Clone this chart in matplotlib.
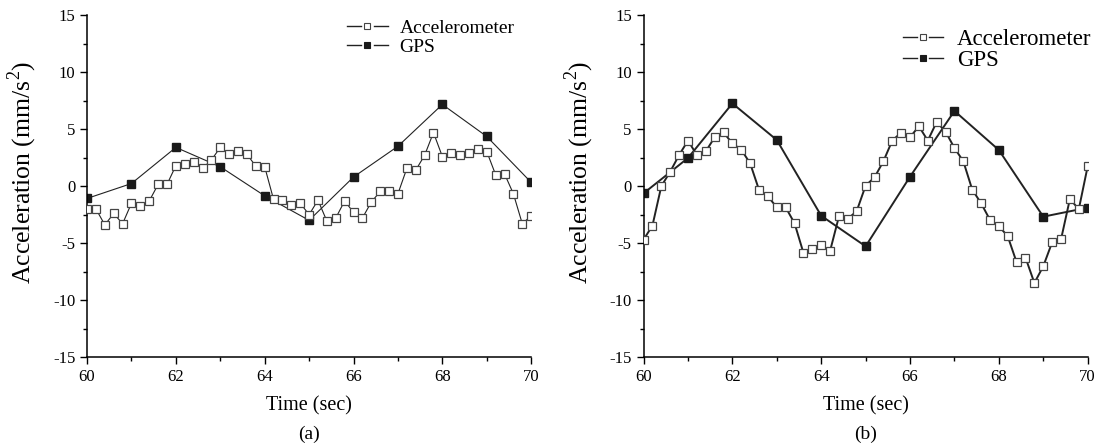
import numpy as np
import matplotlib
matplotlib.use("Agg")
import matplotlib.pyplot as plt
from matplotlib.ticker import MultipleLocator
from matplotlib.legend_handler import HandlerBase
from matplotlib.lines import Line2D

plt.rcParams["font.family"] = ["Liberation Serif", "DejaVu Serif"]
plt.rcParams["mathtext.fontset"] = "custom"
plt.rcParams["mathtext.rm"] = "Liberation Serif"
plt.rcParams["axes.unicode_minus"] = False

# ============================================================
# DATA
# ============================================================
acc_time = np.round(np.arange(60.0, 70.01, 0.2), 1)
gps_time = np.arange(60, 71, 1)

acc_a = [-2.0, -2.0, -3.4, -2.4, -3.3, -1.5, -1.75, -1.3, 0.15, 0.15,
         1.8, 1.9, 2.1, 1.55, 2.3, 3.4, 2.8, 3.1, 2.8, 1.75,
         1.7, -1.17, -1.23, -1.67, -1.5, -2.5, -1.23, -3.07, -2.8, -1.3,
         -2.3, -2.8, -1.4, -0.47, -0.47, -0.67, 1.55, 1.4, 2.7, 4.7,
         2.6, 2.87, 2.7, 2.87, 3.25, 3.04, 1.0, 1.08, -0.67, -3.3,
         -2.6]
gps_a = [-1.08, 0.23, 3.4, 1.7, -0.85, -3.0, 0.8, 3.5, 7.17, 4.36, 0.33]

acc_b = [-4.7, -3.46, 0.0, 1.27, 2.73, 4.0, 2.73, 3.05, 4.28, 4.72,
         3.75, 3.2, 2.0, -0.33, -0.9, -1.86, -1.86, -3.26, -5.86, -5.5,
         -5.2, -5.68, -2.65, -2.88, -2.18, 0.04, 0.77, 2.18, 4.0, 4.7,
         4.3, 5.25, 4.0, 5.63, 4.78, 3.35, 2.18, -0.3, -1.5, -2.96,
         -3.5, -4.4, -6.68, -6.27, -8.5, -7.03, -4.93, -4.67, -1.12, -2.03,
         1.74]
gps_b = [-0.63, 2.47, 7.26, 4.05, -2.6, -5.28, 0.83, 6.6, 3.17, -2.68, -1.89]


# Origin-style legend key: "—□—" with gaps around the marker
class GapHandler(HandlerBase):
    def create_artists(self, legend, orig, xdescent, ydescent, width, height,
                       fontsize, trans):
        y = height / 2 - ydescent
        x0 = -xdescent
        gap = width * 0.15
        kw = dict(color=orig.get_color(), linewidth=1.0)
        l1 = Line2D([x0, x0 + width / 2 - gap], [y, y], **kw)
        l2 = Line2D([x0 + width / 2 + gap, x0 + width], [y, y], **kw)
        m = Line2D([x0 + width / 2], [y], linestyle="none", marker="s",
                   markersize=4.2, markerfacecolor=orig.get_markerfacecolor(),
                   markeredgecolor=orig.get_markeredgecolor(),
                   markeredgewidth=0.8)
        for a in (l1, l2, m):
            a.set_transform(trans)
        return [l1, l2, m]


panels = [
    ("(a)", acc_a, gps_a, 0.8, [0.079, 0.203, 0.403, 0.763], (0.474, 0.975), 14, 0.1),
    ("(b)", acc_b, gps_b, 1.4, [0.584, 0.203, 0.403, 0.763], (0.999, 0.955), 16.5, 0.0),
]

fig = plt.figure(figsize=(11.02, 4.48), dpi=100)

for tag, acc, gps, lw, rect, leg_pos, leg_fs, leg_sp in panels:
    ax = fig.add_axes(rect)
    l_acc, = ax.plot(acc_time, acc, color="#222222", linewidth=lw, marker="s",
                     markersize=5.5, markerfacecolor="white",
                     markeredgecolor="#444444", markeredgewidth=0.9,
                     label="Accelerometer", zorder=3)
    l_gps, = ax.plot(gps_time, gps, color="#222222", linewidth=lw, marker="s",
                     markersize=6, markerfacecolor="#1a1a1a",
                     markeredgecolor="#1a1a1a", label="GPS", zorder=2)

    ax.set_xlim(60, 70)
    ax.set_ylim(-15, 15)
    ax.xaxis.set_major_locator(MultipleLocator(2))
    ax.xaxis.set_minor_locator(MultipleLocator(1))
    ax.yaxis.set_major_locator(MultipleLocator(5))
    ax.yaxis.set_minor_locator(MultipleLocator(2.5))
    ax.tick_params(which="major", direction="out", length=5, width=1, labelsize=12)
    ax.tick_params(which="minor", direction="out", length=3, width=1)
    for s in ("top", "right"):
        ax.spines[s].set_visible(False)
    for s in ("left", "bottom"):
        ax.spines[s].set_linewidth(1.1)

    ax.set_xlabel("Time (sec)", fontsize=14.5, labelpad=8)
    ax.set_ylabel("Acceleration (mm/s$^2$)", fontsize=18.5)
    ax.yaxis.set_label_coords(-0.108, 0.54)
    ax.text(0.5, -0.225, tag, transform=ax.transAxes, ha="center", va="center",
            fontsize=14)

    ax.legend(handles=[l_acc, l_gps], loc="upper right", bbox_to_anchor=leg_pos,
              bbox_transform=fig.transFigure, frameon=False, fontsize=leg_fs,
              handlelength=2.1 * 14 / leg_fs, handletextpad=0.6,
              labelspacing=leg_sp, borderaxespad=0,
              handler_map={Line2D: GapHandler()})

fig.savefig("out.png", dpi=100)
